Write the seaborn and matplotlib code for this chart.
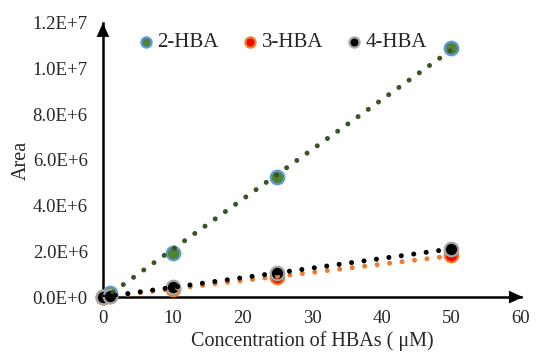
import numpy as np
import pandas as pd
import matplotlib
matplotlib.use('Agg')
import matplotlib.pyplot as plt
import seaborn as sns
from matplotlib.ticker import FuncFormatter

# Calibration data
conc = [0, 1, 10, 25, 50]
hba2 = [0, 2.0e5, 1.95e6, 5.25e6, 1.09e7]
hba3 = [0, 5.0e4, 3.5e5, 8.7e5, 1.82e6]
hba4 = [0, 6.0e4, 4.3e5, 1.04e6, 2.12e6]

names = ['2-HBA', '3-HBA', '4-HBA']
fills = ['#548235', '#FF0000', '#000000']
edges = ['#5B9BD5', '#ED7D31', '#A5A5A5']
trend = ['#375623', '#ED7D31', '#000000']

data = pd.DataFrame({
    'conc': conc * 3,
    'area': hba2 + hba3 + hba4,
    'acid': [n for n in names for _ in conc],
})


def sci_label(v, pos):
    if v == 0:
        return '0.0E+0'
    e = int(np.floor(np.log10(v)))
    return '%.1fE+%d' % (v / 10 ** e, e)


sns.set_style('white')
plt.rcParams['font.family'] = ['Liberation Serif', 'DejaVu Serif']

fig = plt.figure(figsize=(5.36, 3.52), dpi=100)
ax = fig.add_axes([0.192, 0.156, 0.780, 0.779])

for name, fc, ec, tc in zip(names, fills, edges, trend):
    sub = data[data['acid'] == name]
    sns.scatterplot(x='conc', y='area', data=sub, ax=ax, color=fc, edgecolor=ec,
                    s=95, linewidth=1.6, label=name, clip_on=False, zorder=3)
    sns.regplot(x='conc', y='area', data=sub, ax=ax, scatter=False, ci=None,
                truncate=True,
                line_kws=dict(color=tc, linestyle=(0, (0.01, 2.5)), linewidth=3.6,
                              dash_capstyle='round', zorder=4))

ax.set_xlim(0, 60)
ax.set_ylim(0, 1.2e7)
ax.set_xticks(range(0, 61, 10))
ax.set_yticks(np.arange(0, 1.21e7, 2e6))
ax.yaxis.set_major_formatter(FuncFormatter(sci_label))
ax.tick_params(axis='y', labelsize=13.5, length=0, pad=11)
ax.tick_params(axis='x', labelsize=13.5, length=0, pad=9)
ax.set_xlabel('Concentration of HBAs ( μM)', fontsize=14.5, labelpad=3)
ax.set_ylabel('Area', fontsize=14.5, labelpad=1)

for s in ['top', 'right']:
    ax.spines[s].set_visible(False)
for s in ['left', 'bottom']:
    ax.spines[s].set_color('black')
    ax.spines[s].set_linewidth(1.8)
head = dict(arrowstyle='-|>,head_length=1.0,head_width=0.45', color='black', lw=0.1,
            shrinkA=0, shrinkB=0)
ax.annotate('', xy=(1.005, 0), xytext=(0.97, 0), xycoords='axes fraction',
            arrowprops=head, annotation_clip=False)
ax.annotate('', xy=(0, 1.0), xytext=(0, 0.95), xycoords='axes fraction',
            arrowprops=head, annotation_clip=False)

ax.legend(loc='upper left', bbox_to_anchor=(0.083, 0.965), ncol=3, frameon=False,
          fontsize=15, borderpad=0, borderaxespad=0, handlelength=0.8,
          handletextpad=0.15, columnspacing=1.1, markerscale=0.75)

fig.savefig('out.png', dpi=100)
